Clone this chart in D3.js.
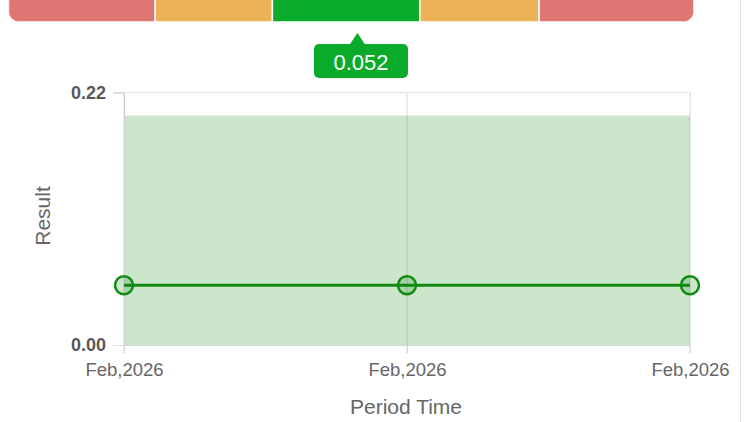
<!DOCTYPE html>
<html>
<head>
<meta charset="utf-8">
<script src="https://cdn.jsdelivr.net/npm/d3@7/dist/d3.min.js"></script>
<style>
    body { margin: 0; background: #fff; font-family: "Liberation Sans", Arial, sans-serif; }
    svg { display: block; }
</style>
</head>
<body>
<svg id="chart" width="744" height="422"></svg>
<script>
// data
var periods = ['Feb,2026', 'Feb,2026', 'Feb,2026'];
var results = [0.052, 0.052, 0.052];
var bandLow = [0, 0, 0];
var bandHigh = [0.2, 0.2, 0.2];
var yTicks = [0, 0.22];

// gauge on top: breaks as fractions of the bar, colours per segment
var gaugeBreaks = [0, 0.214, 0.385, 0.6, 0.774, 1];
var gaugeColors = ['#e07674', '#ebb25a', '#0aab2a', '#ebb25a', '#e07674'];
var gaugePointer = 0.509;
var gaugeLabel = '0.052';

var svg = d3.select('#chart');

// right container border
svg.append('line')
    .attr('x1', 740.5).attr('x2', 740.5)
    .attr('y1', 0).attr('y2', 422)
    .attr('stroke', '#e3e3e3');

// ---- gauge bar
var g = d3.scaleLinear().domain([0, 1]).range([8.5, 694]);

var clip = svg.append('clipPath').attr('id', 'gclip');
clip.append('rect')
    .attr('x', g(0)).attr('y', -12)
    .attr('width', g(1) - g(0)).attr('height', 34)
    .attr('rx', 12).attr('ry', 12);

svg.append('g').attr('clip-path', 'url(#gclip)')
    .selectAll('rect')
    .data(gaugeColors)
    .enter().append('rect')
    .attr('x', function(d, i) { return g(gaugeBreaks[i]); })
    .attr('width', function(d, i) { return g(gaugeBreaks[i + 1]) - g(gaugeBreaks[i]); })
    .attr('y', -12)
    .attr('height', 34)
    .attr('fill', function(d) { return d; })
    .attr('stroke', '#fff')
    .attr('stroke-width', 1.5);

// pointer label
var px = g(gaugePointer);
var tip = svg.append('g');
tip.append('rect')
    .attr('x', 314).attr('y', 44)
    .attr('width', 94).attr('height', 34)
    .attr('rx', 5)
    .attr('fill', '#0aab2a');
tip.append('path')
    .attr('d', 'M' + (px - 8) + ',45 L' + px + ',33 L' + (px + 8) + ',45 Z')
    .attr('fill', '#0aab2a');
tip.append('text')
    .attr('x', 361).attr('y', 69.5)
    .attr('text-anchor', 'middle')
    .attr('font-size', '22px')
    .attr('fill', '#fff')
    .text(gaugeLabel);

// ---- line chart
var x = d3.scalePoint().domain(d3.range(periods.length)).range([124, 690]);
var y = d3.scaleLinear().domain([0, 0.22]).range([345, 92.5]);

// grid
svg.append('g')
    .selectAll('line')
    .data(periods)
    .enter().append('line')
    .attr('x1', function(d, i) { return x(i); })
    .attr('x2', function(d, i) { return x(i); })
    .attr('y1', y(0.22)).attr('y2', y(0) + 8)
    .attr('stroke', '#d8d8d8');

svg.append('line')
    .attr('x1', 113).attr('x2', 690)
    .attr('y1', y(0.22)).attr('y2', y(0.22))
    .attr('stroke', '#e3e3e3');

// band
var area = d3.area()
    .x(function(d, i) { return x(i); })
    .y0(function(d, i) { return y(bandLow[i]); })
    .y1(function(d, i) { return y(bandHigh[i]); });

svg.append('path')
    .datum(periods)
    .attr('d', area)
    .attr('fill', 'green')
    .attr('fill-opacity', 0.2);

// y axis
var yAxis = svg.append('g')
    .attr('transform', 'translate(124,0)')
    .call(d3.axisLeft(y).tickValues(yTicks).tickFormat(d3.format('.2f')).tickSize(11).tickPadding(7));
yAxis.select('.domain').attr('stroke', '#cfcfcf');
yAxis.selectAll('.tick line').attr('stroke', '#dcdcdc');
yAxis.selectAll('text')
    .attr('font-family', '"Liberation Sans", Arial, sans-serif')
    .attr('font-size', '18px')
    .attr('font-weight', 'bold')
    .attr('fill', '#595959');

// x axis
var xAxis = svg.append('g')
    .attr('transform', 'translate(0,' + y(0) + ')')
    .call(d3.axisBottom(x).tickFormat(function(i) { return periods[i]; }).tickSize(8).tickPadding(10));
xAxis.select('.domain').attr('stroke', '#d8d8d8');
xAxis.selectAll('.tick line').attr('stroke', '#d8d8d8');
xAxis.selectAll('text')
    .attr('font-family', '"Liberation Sans", Arial, sans-serif')
    .attr('font-size', '18.5px')
    .attr('fill', '#666');

// result line and points
var line = d3.line()
    .x(function(d, i) { return x(i); })
    .y(function(d) { return y(d); });

svg.append('path')
    .datum(results)
    .attr('d', line)
    .attr('fill', 'none')
    .attr('stroke', '#118a11')
    .attr('stroke-width', 3);

svg.append('g')
    .selectAll('circle')
    .data(results)
    .enter().append('circle')
    .attr('cx', function(d, i) { return x(i); })
    .attr('cy', function(d) { return y(d); })
    .attr('r', 9)
    .attr('fill', 'green')
    .attr('fill-opacity', 0.2)
    .attr('stroke', '#118a11')
    .attr('stroke-width', 2.5);

// axis titles
svg.append('text')
    .attr('x', 406).attr('y', 414)
    .attr('text-anchor', 'middle')
    .attr('font-size', '21px')
    .attr('fill', '#666')
    .text('Period Time');

svg.append('text')
    .attr('transform', 'translate(50,216) rotate(-90)')
    .attr('text-anchor', 'middle')
    .attr('font-size', '21px')
    .attr('fill', '#666')
    .text('Result');
</script>
</body>
</html>
